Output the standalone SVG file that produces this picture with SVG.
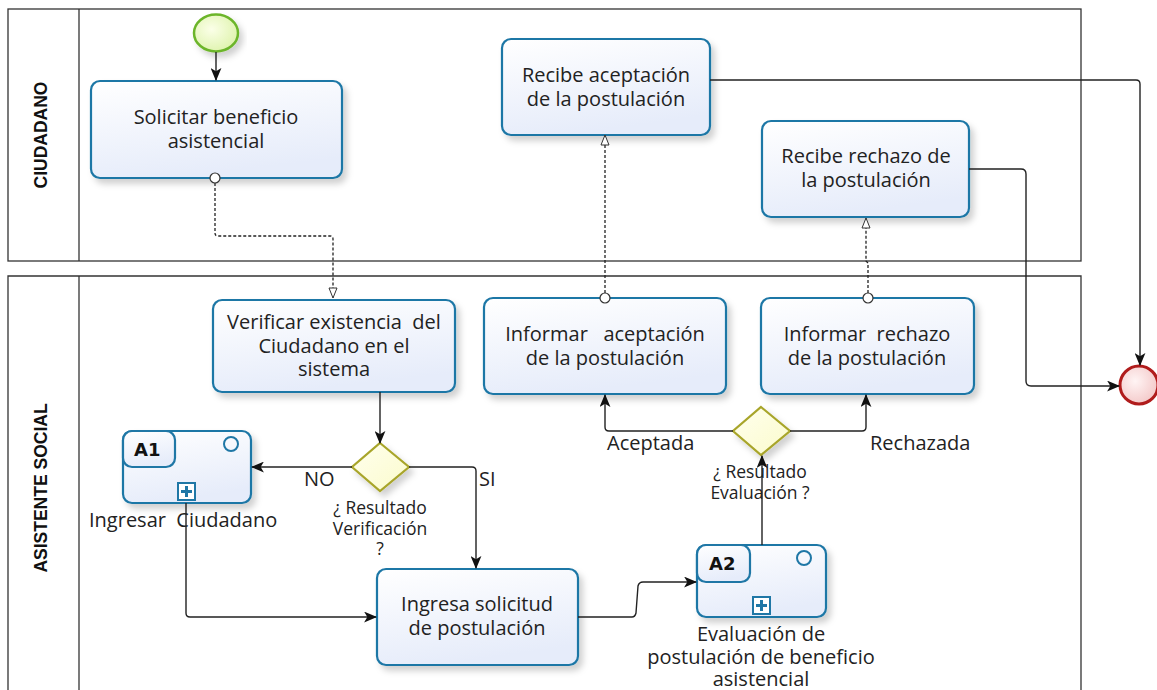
<svg xmlns="http://www.w3.org/2000/svg" width="1157" height="690" viewBox="0 0 1157 690">
<defs>
<linearGradient id="taskG" x1="0" y1="0" x2="0.3" y2="1"><stop offset="0" stop-color="#ffffff"/><stop offset="1" stop-color="#e6ecfa"/></linearGradient>
<linearGradient id="gwG" x1="0" y1="0" x2="1" y2="1"><stop offset="0" stop-color="#ffffee"/><stop offset="1" stop-color="#fbfbcc"/></linearGradient>
<radialGradient id="startG" cx="0.4" cy="0.4" r="0.7"><stop offset="0" stop-color="#fbffe8"/><stop offset="1" stop-color="#dcf2a8"/></radialGradient>
<radialGradient id="endG" cx="0.4" cy="0.4" r="0.7"><stop offset="0" stop-color="#fff4f4"/><stop offset="1" stop-color="#f2c4c4"/></radialGradient>
<filter id="sh" x="-10%" y="-10%" width="130%" height="140%"><feDropShadow dx="4" dy="5" stdDeviation="3" flood-color="#000" flood-opacity="0.18"/></filter>
<marker id="arr" viewBox="0 0 12 10" refX="11" refY="5" markerWidth="13" markerHeight="11" markerUnits="userSpaceOnUse" orient="auto"><path d="M0,0 L12,5 L0,10 L3,5 z" fill="#111"/></marker>
<marker id="open" viewBox="0 0 12 10" refX="11" refY="5" markerWidth="12" markerHeight="10" markerUnits="userSpaceOnUse" orient="auto"><path d="M1,1 L11,5 L1,9 z" fill="#fff" stroke="#333" stroke-width="1"/></marker>
</defs>
<style>
.pool{fill:#fff;stroke:#333;stroke-width:1.3}
.lane{font-family:"Liberation Sans",Arial,sans-serif;font-weight:bold;font-size:17.5px;fill:#111}
.task{fill:url(#taskG);stroke:#1f77a6;stroke-width:2.2;filter:url(#sh)}
.tab{fill:url(#taskG);stroke:#1f77a6;stroke-width:2.2}
.t{font-family:"Open Sans","DejaVu Sans",sans-serif;font-size:20px;fill:#222;text-anchor:middle}
.lbl{font-family:"Open Sans","DejaVu Sans",sans-serif;font-size:20px;fill:#222}
.lbs{font-family:"Open Sans","DejaVu Sans",sans-serif;font-size:17.5px;fill:#222;text-anchor:middle}
.ab{font-family:"DejaVu Sans",sans-serif;font-weight:bold;font-size:18px;fill:#111}
.gw{fill:url(#gwG);stroke:#a8a52a;stroke-width:2.2;filter:url(#sh)}
.flow{fill:none;stroke:#222;stroke-width:1.4;marker-end:url(#arr)}
.msg{fill:none;stroke:#222;stroke-width:1.3;stroke-dasharray:3,2;marker-end:url(#open)}
.mo{fill:#fff;stroke:#333;stroke-width:1.2}
</style>

<g id="pool-ciudadano">
<rect class="pool" x="8" y="9" width="1073" height="252"/>
<line x1="79" y1="9" x2="79" y2="261" stroke="#333" stroke-width="1.3"/>
<text class="lane" transform="translate(47,135) rotate(-90)" text-anchor="middle">CIUDADANO</text>
</g>
<g id="pool-asistente">
<path class="pool" d="M8,690 V276 H1081 V690"/>
<line x1="79" y1="276" x2="79" y2="690" stroke="#333" stroke-width="1.3"/>
<text class="lane" transform="translate(47,488) rotate(-90)" text-anchor="middle">ASISTENTE SOCIAL</text>
</g>

<g id="start">
<ellipse cx="216" cy="33" rx="22" ry="18.5" fill="url(#startG)" stroke="#6cb52a" stroke-width="2.5" filter="url(#sh)"/>
</g>

<g id="task-solicitar">
<rect class="task" x="91" y="81" width="251" height="97" rx="9"/>
<text class="t" x="216" y="124">Solicitar beneficio</text>
<text class="t" x="216" y="148">asistencial</text>
</g>

<g id="task-recibe-aceptacion">
<rect class="task" x="502" y="39" width="208" height="96" rx="9"/>
<text class="t" x="606" y="82">Recibe aceptación</text>
<text class="t" x="606" y="106">de la postulación</text>
</g>

<g id="task-recibe-rechazo">
<rect class="task" x="762" y="121" width="207" height="96" rx="9"/>
<text class="t" x="866" y="163">Recibe rechazo de</text>
<text class="t" x="866" y="187">la postulación</text>
</g>

<g id="task-verificar">
<rect class="task" x="213" y="300" width="242" height="92" rx="9"/>
<text class="t" x="334" y="329" xml:space="preserve">Verificar existencia  del</text>
<text class="t" x="334" y="353">Ciudadano en el</text>
<text class="t" x="334" y="376">sistema</text>
</g>

<g id="task-informar-aceptacion">
<rect class="task" x="484" y="298" width="242" height="96" rx="9"/>
<text class="t" x="605" y="341" xml:space="preserve">Informar   aceptación</text>
<text class="t" x="605" y="365">de la postulación</text>
</g>

<g id="task-informar-rechazo">
<rect class="task" x="761" y="298" width="213" height="96" rx="9"/>
<text class="t" x="867" y="341" xml:space="preserve">Informar  rechazo</text>
<text class="t" x="867" y="365">de la postulación</text>
</g>

<g id="gw-verificacion">
<polygon class="gw" points="380,443 409,467 380,491 352,467"/>
<text class="lbs" x="380" y="514">¿ Resultado</text>
<text class="lbs" x="380" y="535">Verificación</text>
<text class="lbs" x="380" y="555">?</text>
</g>

<g id="sub-a1">
<rect class="task" x="123" y="431" width="128" height="72" rx="9"/>
<rect class="tab" x="123" y="431" width="52" height="36" rx="9"/>
<text class="ab" x="134" y="456">A1</text>
<circle cx="231" cy="444" r="7" fill="none" stroke="#1f77a6" stroke-width="2"/>
<rect x="178" y="483" width="17" height="17" fill="#fff" stroke="#1f77a6" stroke-width="2"/>
<path d="M186.5,486 V497 M181,491.5 H192" stroke="#1f77a6" stroke-width="3"/>
<text class="lbl" x="89" y="527" xml:space="preserve">Ingresar  Ciudadano</text>
</g>

<g id="task-ingresa">
<rect class="task" x="377" y="569" width="201" height="96" rx="9"/>
<text class="t" x="477" y="611">Ingresa solicitud</text>
<text class="t" x="477" y="635">de postulación</text>
</g>

<g id="sub-a2">
<rect class="task" x="697" y="545" width="129" height="72" rx="9"/>
<rect class="tab" x="697" y="545" width="53" height="37" rx="9"/>
<text class="ab" x="709" y="570">A2</text>
<circle cx="804" cy="558" r="7" fill="none" stroke="#1f77a6" stroke-width="2"/>
<rect x="753" y="597" width="17" height="17" fill="#fff" stroke="#1f77a6" stroke-width="2"/>
<path d="M761.5,600 V611 M756,605.5 H767" stroke="#1f77a6" stroke-width="3"/>
<text class="t" x="761" y="641">Evaluación de</text>
<text class="t" x="761" y="664">postulación de beneficio</text>
<text class="t" x="761" y="686">asistencial</text>
</g>

<g id="gw-evaluacion">
<polygon class="gw" points="761,407 790,431 761,455 733,431"/>
<text class="lbs" x="760" y="478">¿ Resultado</text>
<text class="lbs" x="760" y="499">Evaluación ?</text>
</g>

<g id="end">
<circle cx="1139" cy="385" r="19" fill="url(#endG)" stroke="#b01c1c" stroke-width="3"/>
</g>

<g id="connectors">
<path class="flow" d="M216,52 V80"/>
<path class="msg" d="M215,183 V233 Q215,236 218,236 H330 Q333,236 333,239 V298"/>
<path class="flow" d="M380,392 V443"/>
<path class="flow" d="M352,467 H252"/>
<path class="flow" d="M409,467 H472 Q476,467 476,471 V568"/>
<path class="flow" d="M186,503 V613 Q186,617 190,617 H376"/>
<path class="flow" d="M578,617 H632 Q635,617 636,613 L638,586 Q639,582 643,582 H696"/>
<path class="flow" d="M762,545 V456"/>
<path class="flow" d="M733,431 H609 Q605,431 605,427 V395"/>
<path class="flow" d="M790,431 H862 Q866,431 866,427 V395"/>
<path class="msg" d="M605,293 V135"/>
<path class="msg" d="M868,293 V263 L866,261 V218"/>
<path class="flow" d="M710,80 H1136 Q1140,80 1140,84 V365"/>
<path class="flow" d="M969,169 H1021 Q1026,169 1026,174 V381 Q1026,386 1031,386 H1119"/>
<circle class="mo" cx="215" cy="178" r="5"/>
<circle class="mo" cx="605" cy="298" r="5"/>
<circle class="mo" cx="868" cy="298" r="5"/>
<text class="lbl" x="304" y="486">NO</text>
<text class="lbl" x="479" y="486">SI</text>
<text class="lbl" x="607" y="450">Aceptada</text>
<text class="lbl" x="870" y="450">Rechazada</text>
</g>
</svg>
